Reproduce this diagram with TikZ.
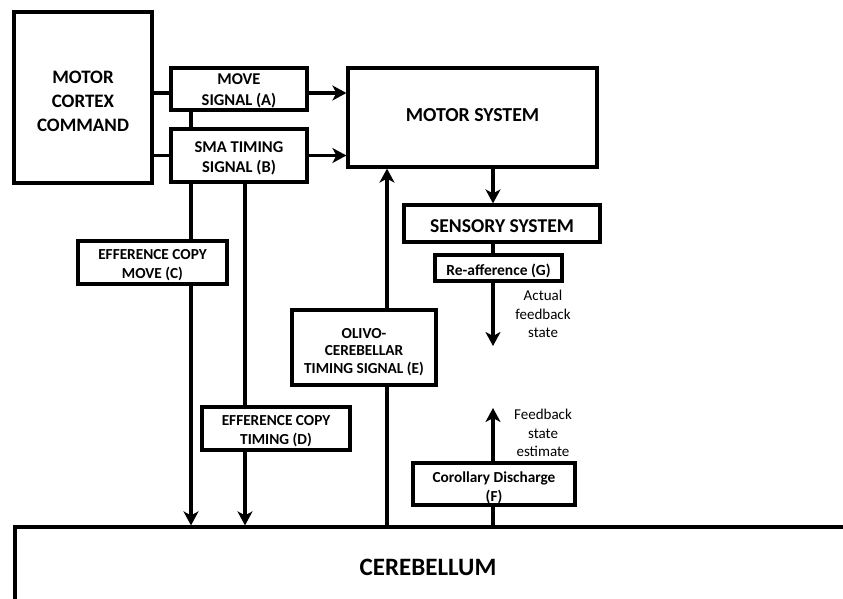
\documentclass[tikz,border=0pt]{standalone}
\usepackage{fontspec}
\setmainfont{Carlito}
\usetikzlibrary{arrows.meta,calc}
\newcommand{\fs}[2]{\fontsize{#1}{#2}\selectfont}
\tikzset{
  box/.style={draw, line width=3.2pt, inner sep=0pt},
  boxlbl/.style={align=center, inner sep=0pt, yshift=-3pt, font=\bfseries\fs{15.3}{19}},
  lnk/.style={line width=3.2pt},
  arr/.style={line width=3.2pt, -{Stealth[length=14pt,width=15pt,inset=4pt]}},
  note/.style={align=center, font=\fs{15}{18.5}, inner sep=0pt},
}
\begin{document}
\begin{tikzpicture}[x=1pt,y=-1pt]
\useasboundingbox (0,0) rectangle (843,598);
\clip (0,0) rectangle (843,598);
% boxes
\node[box, minimum width=138, minimum height=171,
  label={[boxlbl, font=\bfseries\fs{19}{24}, yshift=-0.5pt]center:MOTOR\\CORTEX\\COMMAND}] (mc) at (83,97.5) {};
\node[box, minimum width=136, minimum height=42,
  label={[boxlbl, font=\bfseries\fs{16.5}{21.5}, yshift=1pt]center:MOVE\\SIGNAL (A)}] (A) at (239,89) {};
\node[box, minimum width=136, minimum height=53,
  label={[boxlbl, font=\bfseries\fs{16.5}{20.5}]center:SMA TIMING\\SIGNAL (B)}] (B) at (239,155.5) {};
\node[box, minimum width=249, minimum height=99,
  label={[boxlbl, font=\bfseries\fs{19.8}{24}, yshift=5pt]center:MOTOR SYSTEM}] (ms) at (472.5,117.5) {};
\node[box, minimum width=196, minimum height=37,
  label={[boxlbl, font=\bfseries\fs{19.6}{24}]center:SENSORY SYSTEM}] (ss) at (502,223.5) {};
\node[box, minimum width=127, minimum height=26,
  label={[boxlbl, font=\bfseries\fs{15.5}{19}]center:Re-afference (G)}] (G) at (498.5,268) {};
\node[box, minimum width=149, minimum height=43,
  label={[boxlbl]center:EFFERENCE COPY\\MOVE (C)}] (C) at (152.5,262.5) {};
\node[box, minimum width=148, minimum height=43,
  label={[boxlbl]center:EFFERENCE COPY\\TIMING (D)}] (D) at (276,428.5) {};
\node[box, minimum width=144, minimum height=75,
  label={[boxlbl, font=\bfseries\fs{15.3}{17.5}, yshift=-1.5pt]center:OLIVO-\\CEREBELLAR\\TIMING SIGNAL (E)}] (E) at (364,347.5) {};
\node[box, minimum width=162, minimum height=42,
  label={[boxlbl, yshift=-1pt]center:Corollary Discharge\\(F)}] (F) at (494,484) {};
\node[box, minimum width=900, minimum height=100,
  label={[boxlbl, font=\bfseries\fs{25}{30}, xshift=-37pt, yshift=13pt]center:CEREBELLUM}] (cb) at (465,577) {};
% notes
\node[note] (n1) at (543,314) {Actual\\feedback\\state};
\node[note] (n2) at (543,433) {Feedback\\state\\estimate};
% helper coordinates
\coordinate (ya) at (0,93);
\coordinate (xc) at (191,0);
\coordinate (xd) at (245,0);
\coordinate (xe) at (387,0);
\coordinate (xg) at (493,0);
\coordinate (gend) at (493,346);
\coordinate (fend) at (493,408);
% connectors
\draw[lnk] (mc.east |- ya) -- (A.west |- ya);
\draw[arr] (A.east |- ya) -- (ms.west |- ya);
\draw[lnk] (mc.east |- B.west) -- (B.west);
\draw[arr] (B.east) -- (ms.west |- B.east);
\draw[lnk] (A.south -| xc) -- (B.north -| xc);
\draw[lnk] (B.south -| xc) -- (C.north -| xc);
\draw[arr] (C.south -| xc) -- (cb.north -| xc);
\draw[lnk] (B.south -| xd) -- (D.north -| xd);
\draw[arr] (D.south -| xd) -- (cb.north -| xd);
\draw[lnk] (cb.north -| xe) -- (E.south -| xe);
\draw[arr] (E.north -| xe) -- (ms.south -| xe);
\draw[arr] (ms.south -| xg) -- (ss.north -| xg);
\draw[lnk] (ss.south -| xg) -- (G.north -| xg);
\draw[arr] (G.south -| xg) -- (gend);
\draw[lnk] (cb.north -| xg) -- (F.south -| xg);
\draw[arr] (F.north -| xg) -- (fend);
\end{tikzpicture}
\end{document}
